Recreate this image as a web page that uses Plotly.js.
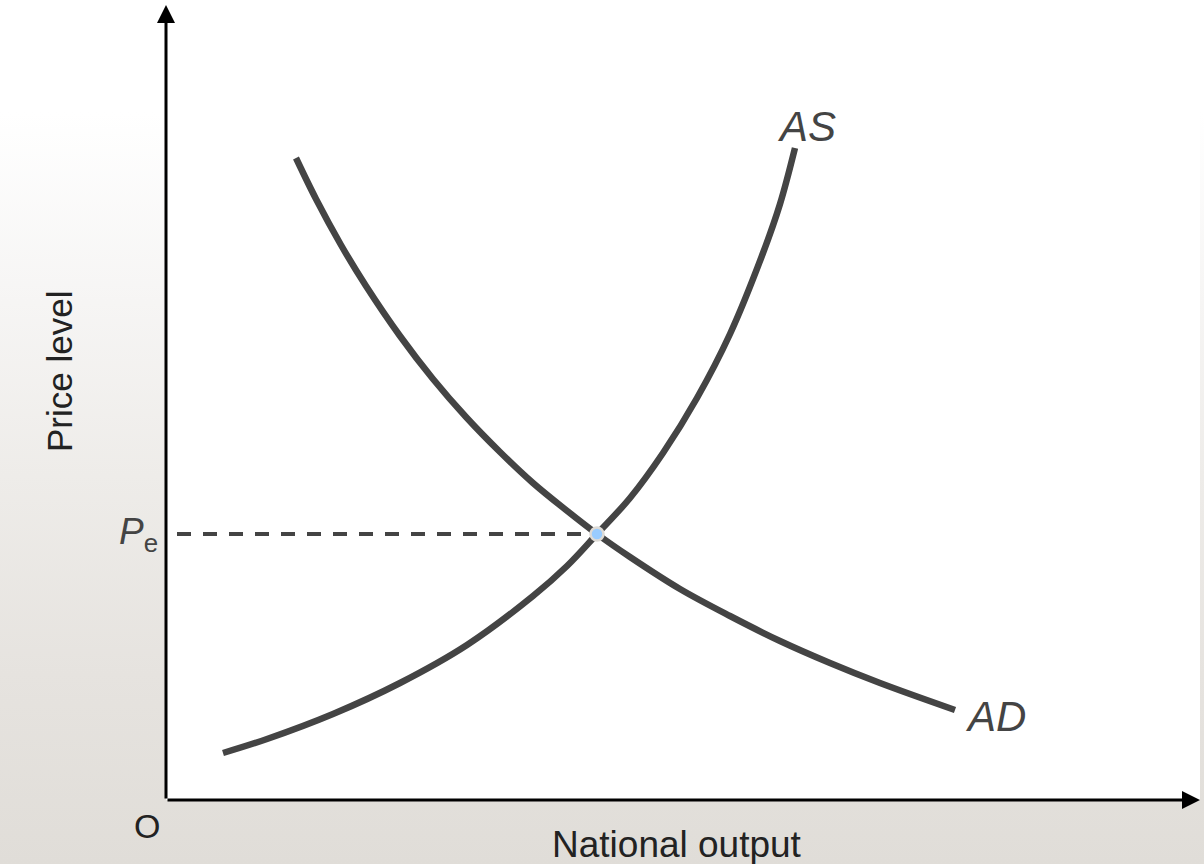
<!DOCTYPE html>
<html>
<head>
<meta charset="utf-8">
<script src="https://cdn.plot.ly/plotly-3.0.1.min.js"></script>
<style>
  html, body { margin: 0; padding: 0; }
  #chart {
    width: 1204px; height: 864px;
    background: linear-gradient(to bottom, #ffffff 0%, #ffffff 13%, #f6f5f4 35%, #eeece9 55%, #e6e3df 78%, #e0ddd8 100%);
  }
</style>
</head>
<body>
<div id="chart"></div>
<script>
// Aggregate supply curve (x = national output, y = price level)
const asX = [57, 101, 167, 234, 301, 367, 401, 431, 464, 497, 531, 564, 597, 614, 629];
const asY = [47, 61, 86, 117, 155, 204, 234, 266, 302, 347, 402, 466, 547, 596, 652];

// Aggregate demand curve
const adX = [130, 150, 175, 200, 234, 267, 300, 334, 367, 400, 431, 464, 514, 564, 614, 664, 714, 789];
const adY = [642, 601, 555, 514, 464, 421, 383, 348, 317, 290, 266, 243, 211, 184, 159, 137, 117, 90];

// Equilibrium
const eqX = [431];
const eqY = [266];
const dashStartX = 11;

// Axis extents
const xMax = 1034;
const yMax = 795;

const curveColor = '#444444';
const font = 'Liberation Sans, Arial, sans-serif';

const traces = [
  {
    x: [dashStartX, eqX[0]], y: [eqY[0], eqY[0]],
    mode: 'lines', line: {color: curveColor, width: 4, dash: '14px,12px'},
    hoverinfo: 'skip', showlegend: false
  },
  {
    x: asX, y: asY, mode: 'lines',
    line: {color: curveColor, width: 6.5, shape: 'spline', smoothing: 1},
    showlegend: false, name: 'AS'
  },
  {
    x: adX, y: adY, mode: 'lines',
    line: {color: curveColor, width: 6.5, shape: 'spline', smoothing: 1},
    showlegend: false, name: 'AD'
  },
  {
    x: eqX, y: eqY, mode: 'markers',
    marker: {color: '#99ccff', size: 13, line: {color: '#dedbd6', width: 2.5}},
    showlegend: false
  }
];

const annotations = [
  // y axis with arrow
  {x: 0, y: yMax, ax: 0, ay: 0, axref: 'x', ayref: 'y', xref: 'x', yref: 'y',
   text: '', showarrow: true, arrowhead: 2, arrowsize: 1.2, arrowwidth: 3, arrowcolor: '#000', standoff: 0},
  // x axis with arrow
  {x: xMax, y: 0, ax: 0, ay: 0, axref: 'x', ayref: 'y', xref: 'x', yref: 'y',
   text: '', showarrow: true, arrowhead: 2, arrowsize: 1.2, arrowwidth: 3, arrowcolor: '#000', standoff: 0},
  {x: 640, y: 674, xanchor: 'center', yanchor: 'middle', text: '<i>AS</i>', showarrow: false,
   font: {family: font, size: 42, color: curveColor}},
  {x: 829, y: 84, xanchor: 'center', yanchor: 'middle', text: '<i>AD</i>', showarrow: false,
   font: {family: font, size: 42, color: curveColor}},
  {xref: 'paper', x: -0.0058, yref: 'y', y: 266, xanchor: 'right', yanchor: 'middle',
   text: '<i>P</i><sub>e</sub>', showarrow: false, font: {family: font, size: 37, color: curveColor}},
  {xref: 'paper', yref: 'paper', x: -0.0184, y: -0.0327, xanchor: 'center', yanchor: 'middle',
   text: 'O', showarrow: false, font: {family: font, size: 34, color: '#222'}},
  {xref: 'paper', yref: 'paper', x: 0.4942, y: -0.0566, xanchor: 'center', yanchor: 'middle',
   text: 'National output', showarrow: false, font: {family: font, size: 37, color: '#222'}},
  {xref: 'paper', yref: 'paper', x: -0.1025, y: 0.5384, xanchor: 'center', yanchor: 'middle',
   text: 'Price level', textangle: -90, showarrow: false, font: {family: font, size: 35, color: '#222'}}
];

const hidden = {showgrid: false, zeroline: false, showline: false, showticklabels: false, ticks: '', fixedrange: true};

const layout = {
  width: 1204, height: 864,
  margin: {l: 166, r: 4, t: 5, b: 64},
  paper_bgcolor: 'rgba(0,0,0,0)',
  plot_bgcolor: '#ffffff',
  xaxis: Object.assign({range: [0, xMax]}, hidden),
  yaxis: Object.assign({range: [0, yMax]}, hidden),
  annotations: annotations,
  showlegend: false
};

Plotly.newPlot('chart', traces, layout, {displayModeBar: false, staticPlot: true});
</script>
</body>
</html>
